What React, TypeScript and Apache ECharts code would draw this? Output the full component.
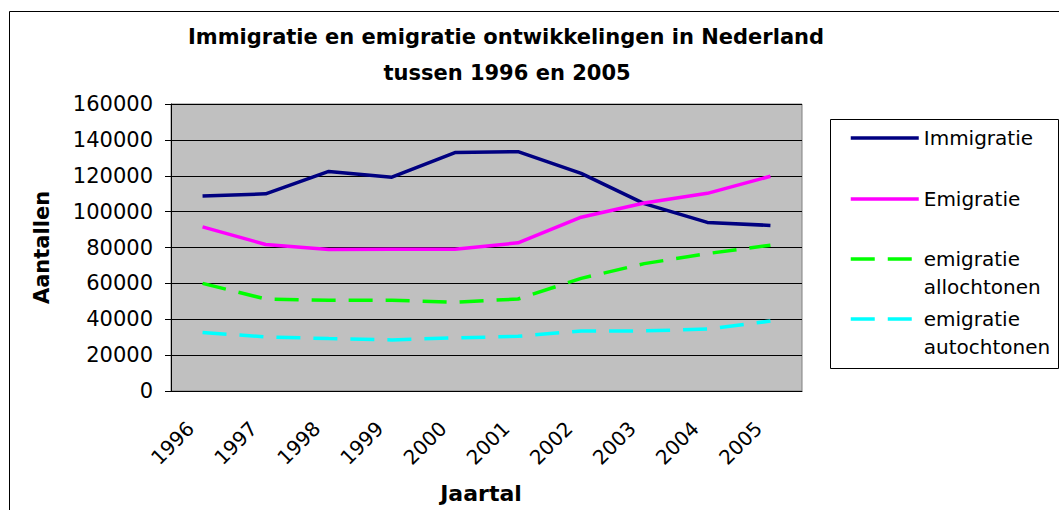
import React, { useEffect, useRef } from "react";
import * as echarts from "echarts";

const years = ["1996", "1997", "1998", "1999", "2000", "2001", "2002", "2003", "2004", "2005"];
const immigratie = [108700, 109900, 122400, 119200, 132900, 133400, 121300, 104500, 94000, 92300];
const emigratie = [91500, 81700, 78900, 79000, 79000, 82600, 96900, 104800, 110200, 119700];
const emigratieAllochtonen = [60000, 51300, 50600, 50600, 49500, 51300, 62800, 71000, 76600, 81300];
const emigratieAutochtonen = [32600, 30200, 29200, 28500, 29600, 30500, 33500, 33500, 34500, 39000];
const yTicks = { min: 0, max: 160000, interval: 20000 };

const FONT = "DejaVu Sans";

export default function App() {
  const ref = useRef<HTMLDivElement>(null);
  useEffect(() => {
    document.body.style.margin = "0";
    const chart = echarts.init(ref.current!, null, { renderer: "svg" });
    const names = ["Immigratie", "Emigratie", "emigratie allochtonen", "emigratie autochtonen"];
    const legendTops = [124, 185, 217, 277];
    const legends = names.map((n, i) => ({
      left: 849,
      top: legendTops[i],
      orient: "vertical",
      padding: 0,
      itemWidth: 68,
      itemHeight: 28,
      selectedMode: false,
      itemStyle: { opacity: 0 },
      lineStyle: { width: 3.5 },
      formatter: (name: string) => (name.indexOf(" ") >= 0 ? "\n" + name.replace(" ", "\n") : name),
      textStyle: { fontFamily: FONT, fontSize: 20, color: "#000", lineHeight: 28 },
      data: [n],
    }));
    chart.setOption({
      animation: false,
      backgroundColor: "#fff",
      graphic: [
        {
          type: "rect",
          shape: { x: 9.5, y: 11.5, width: 1100, height: 600 },
          style: { fill: "none", stroke: "#000", lineWidth: 1 },
          z: 0,
        },
        {
          type: "rect",
          shape: { x: 830.5, y: 119.5, width: 228, height: 249 },
          style: { fill: "#fff", stroke: "#000", lineWidth: 1 },
          z: 0,
        },
        {
          type: "text",
          x: 506,
          y: 37,
          style: {
            text: "Immigratie en emigratie ontwikkelingen in Nederland",
            font: `bold 21px "${FONT}"`,
            fill: "#000",
            textAlign: "center",
            textVerticalAlign: "middle",
          },
        },
        {
          type: "text",
          x: 507,
          y: 73,
          style: {
            text: "tussen 1996 en 2005",
            font: `bold 21px "${FONT}"`,
            fill: "#000",
            textAlign: "center",
            textVerticalAlign: "middle",
          },
        },
      ],
      legend: legends,
      grid: {
        left: 171,
        right: 257,
        top: 104,
        bottom: 119,
        show: true,
        backgroundColor: "#C0C0C0",
        borderColor: "#808080",
        borderWidth: 1,
      },
      xAxis: {
        type: "category",
        data: years,
        boundaryGap: true,
        name: "Jaartal",
        nameLocation: "middle",
        nameGap: 91,
        nameTextStyle: {
          fontFamily: FONT,
          fontSize: 22,
          fontWeight: "bold",
          color: "#000",
          verticalAlign: "top",
          padding: [0, 11, 0, 0],
        },
        axisLine: { lineStyle: { color: "#000", width: 1 } },
        axisTick: { interval: 0, length: 6, lineStyle: { color: "#000" } },
        axisLabel: {
          interval: 0,
          rotate: 45,
          margin: 22,
          padding: [0, 17, 0, 0],
          fontFamily: FONT,
          fontSize: 20,
          color: "#000",
        },
        splitLine: { show: false },
      },
      yAxis: {
        type: "value",
        min: yTicks.min,
        max: yTicks.max,
        interval: yTicks.interval,
        name: "Aantallen",
        nameLocation: "middle",
        nameRotate: 90,
        nameGap: 119,
        nameTextStyle: { fontFamily: FONT, fontSize: 21, fontWeight: "bold", color: "#000" },
        axisLine: { show: true, lineStyle: { color: "#000", width: 1 } },
        axisTick: { show: true, length: 6, lineStyle: { color: "#000" } },
        axisLabel: {
          margin: 18,
          fontFamily: FONT,
          fontSize: 21,
          color: "#000",
          formatter: (v: number) => String(v),
        },
        splitLine: { show: true, lineStyle: { color: "#000", width: 1 } },
      },
      series: [
        {
          name: names[0],
          type: "line",
          data: immigratie,
          symbol: "none",
          lineStyle: { color: "#000080", width: 3.5 },
          itemStyle: { color: "#000080" },
        },
        {
          name: names[1],
          type: "line",
          data: emigratie,
          symbol: "none",
          lineStyle: { color: "#FF00FF", width: 3.5 },
          itemStyle: { color: "#FF00FF" },
        },
        {
          name: names[2],
          type: "line",
          data: emigratieAllochtonen,
          symbol: "none",
          lineStyle: { color: "#00FF00", width: 3.5, type: [24, 13] },
          itemStyle: { color: "#00FF00" },
        },
        {
          name: names[3],
          type: "line",
          data: emigratieAutochtonen,
          symbol: "none",
          lineStyle: { color: "#00FFFF", width: 3.5, type: [24, 13] },
          itemStyle: { color: "#00FFFF" },
        },
      ],
    });
    return () => chart.dispose();
  }, []);
  return <div ref={ref} style={{ width: 1059, height: 510 }} />;
}
